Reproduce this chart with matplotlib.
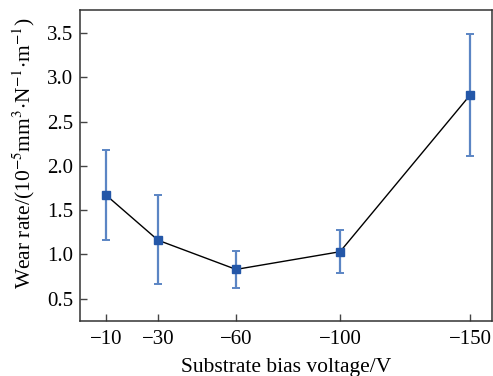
import numpy as np
import matplotlib
matplotlib.use('Agg')
import matplotlib.pyplot as plt

plt.rcParams['font.family'] = ['Liberation Serif', 'DejaVu Serif']
plt.rcParams['mathtext.fontset'] = 'stix'

# bias voltage (magnitude, V) and wear rate data
bias = [10, 30, 60, 100, 150]
bias_labels = ['\u221210', '\u221230', '\u221260', '\u2212100', '\u2212150']
wear = [1.67, 1.16, 0.83, 1.03, 2.80]
err_low = [0.51, 0.50, 0.21, 0.24, 0.69]
err_high = [0.51, 0.51, 0.21, 0.24, 0.69]

fig = plt.figure(figsize=(4.93, 3.76), dpi=100)
ax = fig.add_axes([0.1623, 0.147, 0.836, 0.826])

ax.plot(bias, wear, color='black', linewidth=1.0, zorder=2)
ax.errorbar(bias, wear, yerr=[err_low, err_high], fmt='none', ecolor='#5b85c4',
            elinewidth=1.6, capsize=3, capthick=1.4, zorder=3)
ax.plot(bias, wear, linestyle='', marker='s', markersize=6,
        color='#2457a8', zorder=4)

ax.set_xlim(0, 158.5)
ax.set_ylim(0.25, 3.76)
ax.set_xticks(bias)
ax.set_xticklabels(bias_labels)
ax.set_yticks([0.5, 1.0, 1.5, 2.0, 2.5, 3.0, 3.5])
ax.set_yticklabels(['0.5', '1.0', '1.5', '2.0', '2.5', '3.0', '3.5'])
ax.tick_params(direction='in', length=5, width=1, color='#444444',
               labelsize=15, top=False, right=False, pad=5)
ax.tick_params(axis='x', pad=7)

for s in ax.spines.values():
    s.set_color('#333333')
    s.set_linewidth(1.1)

ax.set_xlabel('Substrate bias voltage/V', fontsize=15.5, labelpad=6)
ax.set_ylabel(r'Wear rate/(10$^{-5}$mm$^{3}$$\cdot$N$^{-1}$$\cdot$m$^{-1}$)',
              fontsize=15.5)
ax.yaxis.set_label_coords(-0.105, 0.54)

fig.savefig('out.png', dpi=100)
